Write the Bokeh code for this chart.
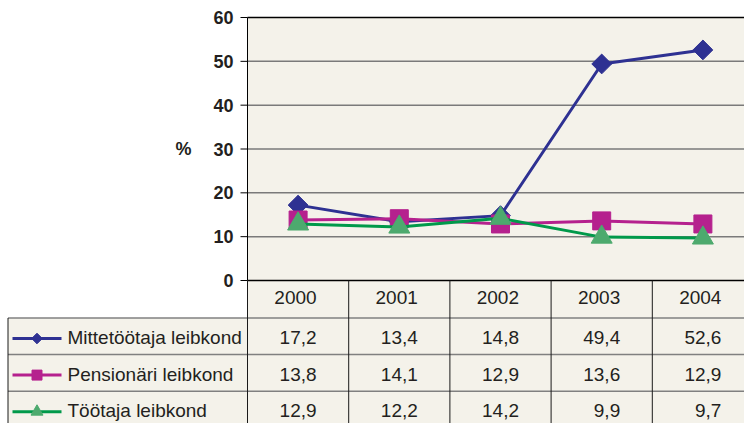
import math
from bokeh.plotting import figure
from bokeh.models import Range1d
from bokeh.embed import file_html
from bokeh.resources import INLINE
from bokeh.core.properties import value

# ---------------- data ----------------
years = ["2000", "2001", "2002", "2003", "2004"]
series_names = ["Mittetöötaja leibkond", "Pensionäri leibkond", "Töötaja leibkond"]
mittetootaja = [17.2, 13.4, 14.8, 49.4, 52.6]
pensionari = [13.8, 14.1, 12.9, 13.6, 12.9]
tootaja = [12.9, 12.2, 14.2, 9.9, 9.7]
y_ticks = [0, 10, 20, 30, 40, 50, 60]
y_label = "%"

# ---------------- style / layout ----------------
FONT = "Liberation Sans"
CREAM = "#F4F2EA"
TEXT = "#231F20"
BLUE = "#2E3192"
MAGENTA = "#B5218E"
GREEN_LINE = "#00994A"
GREEN_MARK = "#4DAA6E"
GRID = "#7A7A7A"
RULE_H = "#808080"
RULE_V = "#1A1A1A"

W, H = 744, 423
X0 = 247            # left edge of the plot area (px)
CW = 101.2          # width of one category column (px)
PLOT_TOP = 17       # px of the top value
PLOT_BOTTOM = 280   # px of the zero value
Y_MIN, Y_MAX = 0, 60
HEADER_H = 37.5
ROW_H = 36.6
LABEL_LEFT_PX = 7.5


def refx(X):
    """convert a horizontal pixel position to category units"""
    return -0.5 + (X - X0) / CW


x_start = refx(0)
x_end = refx(W)
x_left = -0.5
unit = (PLOT_BOTTOM - PLOT_TOP) / (Y_MAX - Y_MIN)     # px per percent
pct_end = Y_MAX + PLOT_TOP / unit
pct_start = Y_MIN - (H - PLOT_BOTTOM) / unit

xs = list(range(len(years)))
series = [mittetootaja, pensionari, tootaja]
colors = [BLUE, MAGENTA, GREEN_LINE]
mark_colors = [BLUE, MAGENTA, GREEN_MARK]
markers = ["square", "square", "triangle"]
angles = [math.pi / 4, 0, 0]
sizes = [14, 18, 21]
legend_sizes = [7.5, 10, 12]

p = figure(width=W, height=H, x_range=Range1d(x_start, x_end),
           y_range=Range1d(H, 0), x_axis_location=None, y_axis_location=None,
           output_backend="svg", toolbar_location=None, min_border=0,
           background_fill_color="white", border_fill_color="white",
           outline_line_color=None)
p.extra_y_ranges = {"pct": Range1d(pct_start, pct_end)}
p.grid.visible = False

# ---------- backgrounds ----------
p.quad(left=[x_left], right=[x_end], bottom=[Y_MIN], top=[Y_MAX],
       fill_color=CREAM, line_color=None, y_range_name="pct")
table_top = PLOT_BOTTOM
head_bottom = table_top + HEADER_H
p.quad(left=[x_left], right=[x_end], top=[table_top], bottom=[head_bottom],
       fill_color=CREAM, line_color=None)
p.quad(left=[refx(LABEL_LEFT_PX)], right=[x_end], top=[head_bottom], bottom=[H],
       fill_color=CREAM, line_color=None)

# ---------- gridlines and axis ----------
inner = [t for t in y_ticks if Y_MIN < t < Y_MAX]
p.segment(x0=[x_left] * len(inner), y0=inner, x1=[x_end] * len(inner), y1=inner,
          line_color=GRID, line_width=1.5, y_range_name="pct")
p.segment(x0=[x_left, x_left], y0=[Y_MIN, Y_MAX], x1=[x_end, x_end], y1=[Y_MIN, Y_MAX],
          line_color="black", line_width=1.3, y_range_name="pct")
p.segment(x0=[refx(X0 - 7)] * len(y_ticks), y0=y_ticks,
          x1=[x_left] * len(y_ticks), y1=y_ticks,
          line_color="black", line_width=1, y_range_name="pct")
p.text(x=[refx(X0 - 14)] * len(y_ticks), y=y_ticks, text=[str(t) for t in y_ticks],
       text_align="right", text_baseline="middle", text_font=value(FONT),
       text_font_size="18px", text_font_style="bold", text_color=TEXT,
       y_range_name="pct")
p.text(x=[refx(X0 - 56)], y=[(Y_MIN + Y_MAX) / 2], text=[y_label],
       text_align="right", text_baseline="middle", text_font=value(FONT),
       text_font_size="18px", text_font_style="bold", text_color=TEXT,
       y_range_name="pct")

# ---------- table rules ----------
row_tops = [head_bottom + k * ROW_H for k in range(len(series_names))]
p.segment(x0=[refx(LABEL_LEFT_PX)] * len(row_tops), y0=row_tops,
          x1=[x_end] * len(row_tops), y1=row_tops,
          line_color=RULE_H, line_width=1.5)
p.segment(x0=[x_left], y0=[Y_MIN], x1=[x_left], y1=[Y_MAX],
          line_color="black", line_width=1, y_range_name="pct")
vx = [i - 0.5 for i in range(len(years) + 1)]
p.segment(x0=vx, y0=[table_top] * len(vx), x1=vx, y1=[H] * len(vx),
          line_color=RULE_V, line_width=1)
p.segment(x0=[refx(LABEL_LEFT_PX)], y0=[head_bottom], x1=[refx(LABEL_LEFT_PX)], y1=[H],
          line_color=RULE_V, line_width=1)

# ---------- series ----------
for ys, c, mc, m, a, s in zip(series, colors, mark_colors, markers, angles, sizes):
    p.line(xs, ys, line_color=c, line_width=3, y_range_name="pct")
    p.scatter(xs, ys, marker=m, angle=a, size=s, fill_color=mc, line_color=mc,
              y_range_name="pct")

# ---------- table text ----------
num_dx = 18.5 / CW
p.text(x=[i + num_dx for i in xs], y=[table_top + 17] * len(years), text=years,
       text_align="right", text_baseline="middle",
       text_font=value(FONT), text_font_size="19px", text_color=TEXT)

for r, (name, ys, c, mc, m, a, ls) in enumerate(
        zip(series_names, series, colors, mark_colors, markers, angles, legend_sizes)):
    top = row_tops[r]
    yc = top + 19.5
    labels = [f"{v:.1f}".replace(".", ",") for v in ys]
    p.text(x=[i + num_dx for i in xs], y=[yc] * len(xs), text=labels,
           text_align="right", text_baseline="middle",
           text_font=value(FONT), text_font_size="19px", text_color=TEXT)
    p.text(x=[refx(67)], y=[yc], text=[name],
           text_align="left", text_baseline="middle",
           text_font=value(FONT), text_font_size="19px", text_color=TEXT)
    ly = top + 20.5
    p.segment(x0=[refx(12)], y0=[ly], x1=[refx(61)], y1=[ly],
              line_color=c, line_width=3)
    p.scatter(x=[refx(36.5)], y=[ly], marker=m, angle=a, size=ls,
              fill_color=mc, line_color=mc)

open("out.html", "w").write(file_html(p, INLINE))
